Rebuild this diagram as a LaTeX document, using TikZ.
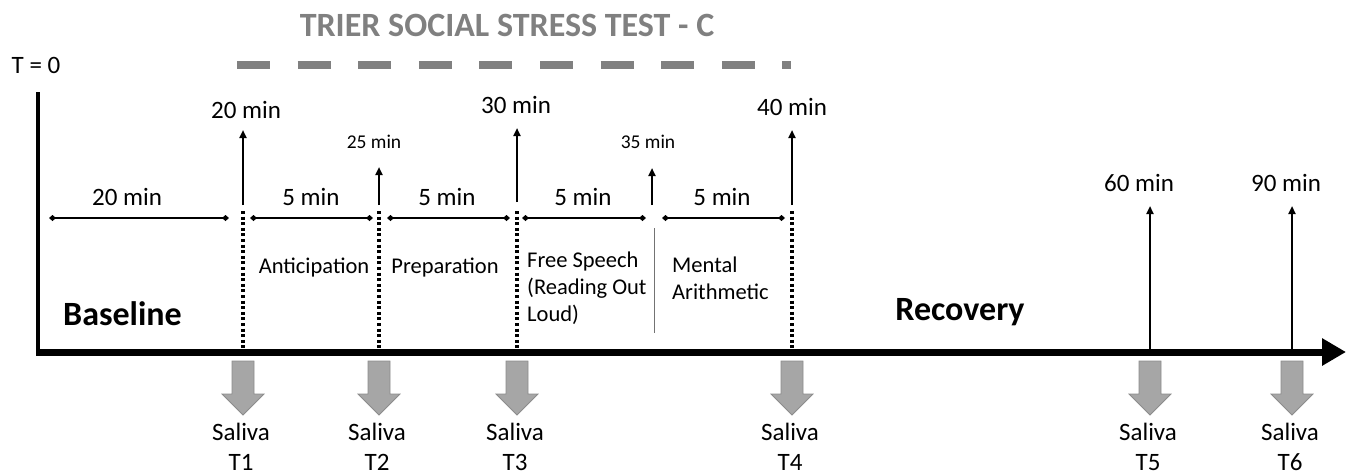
\documentclass[tikz,border=0pt]{standalone}
\usepackage{fontspec}
\setmainfont{Carlito}
\usetikzlibrary{arrows.meta}
\begin{document}
\begin{tikzpicture}[x=1pt,y=-1pt,
  lab/.style={font=\fontsize{25}{30}\selectfont, inner sep=0pt, text depth=0pt},
  smalllab/.style={font=\fontsize{19.5}{23}\selectfont, inner sep=0pt, text depth=0pt},
  phase/.style={font=\fontsize{22.5}{27}\selectfont, inner sep=0pt, align=left},
  bigb/.style={font=\bfseries\fontsize{34}{40}\selectfont, inner sep=0pt},
  uparr/.style={line width=2pt, -{Triangle[length=8pt,width=7pt]}},
  dimline/.style={line width=2pt, {Diamond[length=7pt,width=6pt]}-{Diamond[length=7pt,width=6pt]}},
  dotl/.style={line width=3.5pt, dash pattern=on 3pt off 2.6pt},
  sal/.style={fill=black!35, draw=black!45, line width=0.8pt},
  salab/.style={font=\fontsize{25}{30}\selectfont, inner sep=0pt, align=center, anchor=north},
]
\useasboundingbox (0,0) rectangle (1346,475);

% title and dashed bar
\node[bigb, text=black!50, text depth=0pt] (title) at (507,25) {TRIER SOCIAL STRESS TEST - C};
\coordinate (dbs) at (237,65);
\coordinate (dbe) at (791,65);
\draw[line width=8pt, draw=black!50, dash pattern=on 33pt off 27.6pt] (dbs) -- (dbe);
\node[lab] (t0) at (36,65) {T = 0};

% axes
\coordinate (vtop) at (38,92);
\coordinate (origin) at (36,352);
\coordinate (xend) at (1346,352);
\draw[line width=4pt] (vtop) -- (38,355);
\draw[line width=7pt, -{Triangle[length=24pt,width=26pt]}] (origin) -- (xend);

% event points on the axis
\coordinate (e1) at (243,350);
\coordinate (e2) at (379,350);
\coordinate (e3) at (517,350);
\coordinate (e35) at (654,333);
\coordinate (e4) at (792,350);
\coordinate (e5) at (1150,350);
\coordinate (e6) at (1292,350);

% dotted separators
\coordinate (d1) at (243,211);
\coordinate (d2) at (379,211);
\coordinate (d3) at (517,211);
\coordinate (d35) at (654,228);
\coordinate (d4) at (792,211);
\draw[dotl] (d1) -- (e1);
\draw[dotl] (d2) -- (e2);
\draw[dotl] (d3) -- (e3);
\draw[dotl] (d4) -- (e4);
\draw[black!55, line width=1pt] (d35) -- (e35);

% up arrows with time labels
\node[lab] (m20) at (246,110) {20 min};
\node[smalllab] (m25) at (374,142) {25 min};
\node[lab] (m30) at (516,105) {30 min};
\node[smalllab] (m35) at (648,142) {35 min};
\node[lab] (m40) at (792,107) {40 min};
\node[lab] (m60) at (1139,183) {60 min};
\node[lab] (m90) at (1286,183) {90 min};
\coordinate (u1) at (243,205); \coordinate (u1t) at (243,130);
\coordinate (u2) at (379,205); \coordinate (u2t) at (379,167);
\coordinate (u3) at (517,202); \coordinate (u3t) at (517,128);
\coordinate (u35) at (652,205); \coordinate (u35t) at (652,168);
\coordinate (u4) at (792,205); \coordinate (u4t) at (792,130);
\coordinate (u5t) at (1150,206);
\coordinate (u6t) at (1292,206);
\draw[uparr] (u1) -- (u1t);
\draw[uparr] (u2) -- (u2t);
\draw[uparr] (u3) -- (u3t);
\draw[uparr] (u35) -- (u35t);
\draw[uparr] (u4) -- (u4t);
\draw[uparr] (e5) -- (u5t);
\draw[uparr] (e6) -- (u6t);

% duration markers
\coordinate (a0) at (49,218);  \coordinate (b0) at (229,218);
\coordinate (a1) at (250,218); \coordinate (b1) at (373,218);
\coordinate (a2) at (387,218); \coordinate (b2) at (510,218);
\coordinate (a3) at (522,218); \coordinate (b3) at (646,218);
\coordinate (a4) at (662,218); \coordinate (b4) at (785,218);
\draw[dimline] (a0) -- (b0);
\draw[dimline] (a1) -- (b1);
\draw[dimline] (a2) -- (b2);
\draw[dimline] (a3) -- (b3);
\draw[dimline] (a4) -- (b4);
\node[lab] (du0) at (127,197) {20 min};
\node[lab] (du1) at (311,197) {5 min};
\node[lab] (du2) at (447,197) {5 min};
\node[lab] (du3) at (583,197) {5 min};
\node[lab] (du4) at (722,197) {5 min};

% phase labels
\node[phase, text depth=0pt] (ant) at (314,266) {Anticipation};
\node[phase, text depth=0pt] (prep) at (445,266) {Preparation};
\node[phase, anchor=north west] (free) at (527,252) {Free Speech\\(Reading Out\\Loud)};
\node[phase, anchor=north west] (ment) at (672,257) {Mental\\Arithmetic};
\node[bigb, anchor=base west] (base) at (63,325) {Baseline};
\node[bigb, text depth=0pt] (rec) at (960,309) {Recovery};

% saliva sampling arrows
\foreach \x/\n in {243/1,379/2,517/3,792/4,1150/5,1292/6}{
  \draw[sal] (\x-11,361) -- (\x+11,361) -- (\x+11,394) -- (\x+21,394) -- (\x,415) -- (\x-21,394) -- (\x-11,394) -- cycle;
  \node[salab] (s\n) at (\x-2,423) {Saliva\\T\n};
}
\end{tikzpicture}
\end{document}
